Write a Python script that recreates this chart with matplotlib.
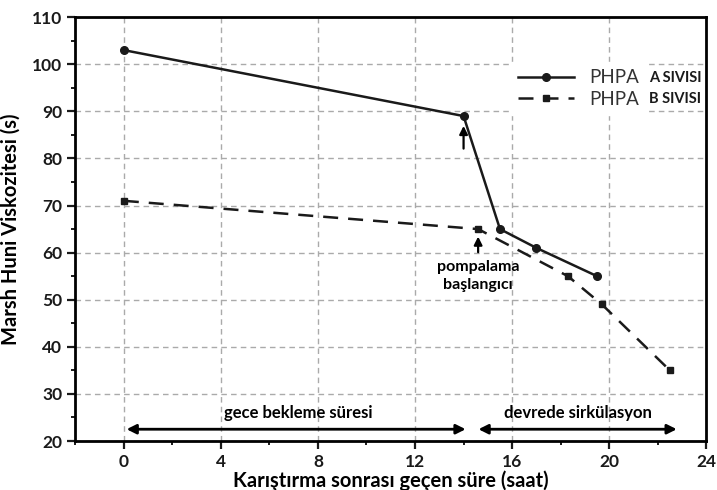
import matplotlib
matplotlib.use("Agg")
import matplotlib.pyplot as plt
from matplotlib.ticker import MultipleLocator

plt.rcParams['font.family'] = ['Lato', 'DejaVu Sans']

# data
a_hours = [0, 14, 15.5, 17, 19.5]
a_visc = [103, 89, 65, 61, 55]
b_hours = [0, 14.6, 18.3, 19.7, 22.5]
b_visc = [71, 65, 55, 49, 35]
series_names = ['A SIVISI', 'B SIVISI']

fig = plt.figure(figsize=(7.17, 4.9), dpi=100)
ax = fig.add_axes([0.105, 0.1, 0.88, 0.865])

ax.plot(a_hours, a_visc, color='#1a1a1a', lw=1.8, marker='o', ms=5.5, label='PHPA')
ax.plot(b_hours, b_visc, color='#1a1a1a', lw=1.8, ls=(0, (6, 4)), marker='s', ms=5, label='PHPA')

ax.set_xlim(-2, 24)
ax.set_ylim(20, 110)
ax.xaxis.set_major_locator(MultipleLocator(4))
ax.xaxis.set_minor_locator(MultipleLocator(2))
ax.yaxis.set_major_locator(MultipleLocator(10))
ax.yaxis.set_minor_locator(MultipleLocator(5))
ax.grid(True, which='major', ls=(0, (4, 3)), color='#aaaaaa', lw=1)
ax.tick_params(which='major', direction='out', length=6, width=1.6, labelsize=12.5, colors='#1a1a1a')
ax.tick_params(which='minor', direction='out', length=3, width=1.4, colors='#1a1a1a')
for lab in ax.get_xticklabels() + ax.get_yticklabels():
    lab.set_fontweight('bold')
for s in ax.spines.values():
    s.set_linewidth(2)

ax.set_xlabel('Karıştırma sonrası geçen süre (saat)', fontsize=14.5, fontweight='bold', labelpad=0)
ax.set_ylabel('Marsh Huni Viskozitesi (s)', fontsize=14.5, fontweight='bold', labelpad=8)

# period arrows
arr = dict(arrowstyle='<|-|>', color='black', lw=2, mutation_scale=14)
ax.annotate('', xy=(0, 22.5), xytext=(14.2, 22.5), arrowprops=arr)
ax.annotate('', xy=(14.5, 22.5), xytext=(22.9, 22.5), arrowprops=arr)
ax.text(7.2, 24.3, 'gece bekleme süresi', ha='center', va='bottom', fontsize=12, fontweight='bold')
ax.text(18.7, 24.3, 'devrede sirkülasyon', ha='center', va='bottom', fontsize=12, fontweight='bold')

# pump start markers
small = dict(arrowstyle='-|>', color='black', lw=1.6, mutation_scale=12)
ax.annotate('', xy=(14, 87.5), xytext=(14, 81.5), arrowprops=small)
ax.annotate('', xy=(14.6, 64), xytext=(14.6, 59.5), arrowprops=small)
ax.text(14.6, 58.5, 'pompalama\nbaşlangıcı', ha='center', va='top', fontsize=11.5,
        fontweight='bold', linespacing=1.4)

leg = ax.legend(loc='upper left', bbox_to_anchor=(0.69, 0.895), fontsize=13.5,
                frameon=True, fancybox=False, edgecolor='white', framealpha=1,
                handlelength=3, labelspacing=0.25, borderaxespad=0)
for t in leg.get_texts():
    t.set_color('#333333')
fig.canvas.draw()
for t, name in zip(leg.get_texts(), series_names):
    bb = t.get_window_extent()
    x0, y0 = ax.transAxes.inverted().transform((bb.x1 + 10, (bb.y0 + bb.y1) / 2))
    ax.text(x0, y0, name, transform=ax.transAxes, ha='left', va='center', zorder=10,
            fontsize=10.5, fontweight='bold', color='#1a1a1a')

fig.savefig('out.png', dpi=100)
